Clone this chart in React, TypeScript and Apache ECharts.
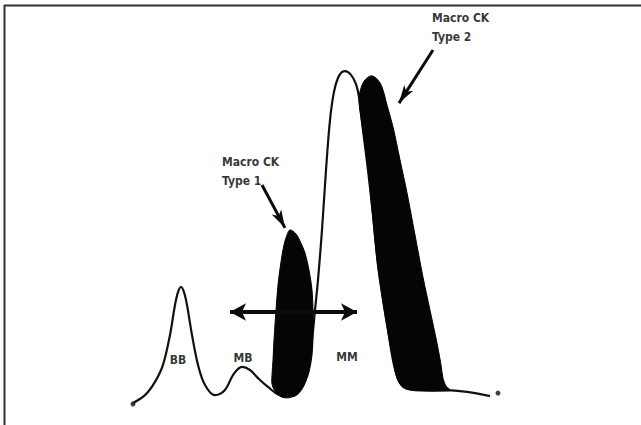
import React, { useEffect, useRef } from "react";
import * as echarts from "echarts";

// Electrophoretic migration (x) vs. relative absorbance (y)
const normalTrace: [number, number][] = [
  [5, 0.6], [8, 2.9], [10.5, 6.8], [12.5, 11.8], [14.25, 20.6], [15.5, 29.4],
  [16.25, 33.2], [17, 34.7], [17.75, 33.2], [18.5, 29.4], [19.75, 20.6],
  [21.25, 11.8], [23, 5.9], [25.5, 2.9], [28, 4.4], [30, 8.8], [32.25, 11.2],
  [34.25, 10.3], [36.25, 7.9], [38.75, 5.3], [41.75, 2.9], [44.75, 2.6],
  [47.25, 5], [48.75, 10.3], [49.75, 19.1], [50.5, 27.9], [51.25, 36.8],
  [52.25, 51.5], [53.25, 69.1], [54.25, 83.8], [55.25, 92.1], [56.5, 96.8],
  [58, 98.2], [59.5, 97.1], [60.75, 94.4], [61.5, 90.6], [62.5, 80.9],
  [63.75, 69.1], [65, 55.9], [66.25, 41.2], [67.5, 30.9], [68.75, 22.1],
  [70.25, 11.8], [71.75, 6.5], [73.75, 4.7], [78, 4.4], [82.5, 4.4],
  [86.75, 4.1], [90.5, 3.5], [94.25, 2.6],
];

const macroType1: [number, number][] = [
  [44.25, 51.5], [45.75, 50.3], [47, 47.6], [48, 44.7], [49, 39.7], [49.75, 33.8],
  [50, 27.9], [50, 20.6], [49.75, 14.7], [49, 9.7], [48, 6.5], [46.5, 3.8],
  [44.75, 2.4], [43.25, 2.1], [41.75, 2.6], [40.5, 4.1], [39.75, 6.2],
  [39.75, 8.8], [40, 13.2], [40.25, 19.1], [40.75, 27.9], [41.25, 35.3],
  [42, 42.1], [42.75, 47.1], [43.5, 50],
];

const macroType2: [number, number][] = [
  [64.5, 96.8], [66, 95.9], [67.25, 93.5], [68.5, 88.2], [70, 81.8], [71.75, 72.1],
  [73.5, 62.4], [75.5, 50], [77.5, 37.6], [79.25, 27.9], [81, 18.2], [82, 11.8],
  [82.5, 7.9], [83.25, 5.6], [84.25, 4.4], [81.75, 4.1], [78, 4.1], [74.25, 4.4],
  [72.25, 5.6], [71, 7.9], [70, 13.2], [68.5, 22.9], [67.25, 32.4], [66, 42.6],
  [64.75, 57.4], [63.5, 72.1], [62.25, 82.4], [61.5, 89.7], [62, 93.2], [63, 95.6],
];

const traceEnds: [number, number][] = [[5, 0.3], [96.25, 3.5]];

const bandLabels: { text: string; at: [number, number] }[] = [
  { text: "BB", at: [16.25, 13.2] },
  { text: "MB", at: [32.5, 13.8] },
  { text: "MM", at: [58.5, 14.1] },
];

const calloutLabels: { text: string; at: [number, number] }[] = [
  { text: "Macro CK\nType 1", at: [27.25, 68.8] },
  { text: "Macro CK\nType 2", at: [79.75, 110.9] },
];

// arrows: [from, to, double-headed]
const arrows: { from: [number, number]; to: [number, number]; both: boolean }[] = [
  { from: [29.25, 27.35], to: [61, 27.35], both: true },
  { from: [37.25, 64.7], to: [43, 52.1], both: false },
  { from: [80, 104.4], to: [71.5, 88.8], both: false },
];

const FONT = "'Liberation Sans Narrow', 'DejaVu Sans Condensed', 'Liberation Sans', Arial, sans-serif";

export default function App() {
  const ref = useRef<HTMLDivElement>(null);
  useEffect(() => {
    if (!ref.current) return;
    const chart = echarts.init(ref.current, undefined, { renderer: "svg" });
    const polygonSeries = (pts: [number, number][]) => ({
      type: "custom",
      coordinateSystem: "cartesian2d",
      silent: true,
      z: 3,
      data: [pts[0]],
      renderItem: (params: any, api: any) => {
        if (params.dataIndex !== 0) return null;
        return {
          type: "polygon",
          shape: { points: pts.map((p) => api.coord(p)), smooth: 0.35 },
          style: { fill: "#050505", stroke: "#050505", lineWidth: 1 },
        };
      },
    });
    chart.setOption({
      animation: false,
      backgroundColor: "#ffffff",
      grid: { left: 113, top: 14, width: 500, height: 391 },
      xAxis: { type: "value", min: 0, max: 125, show: false },
      yAxis: { type: "value", min: 0, max: 115, show: false },
      graphic: [
        { type: "line", shape: { x1: 4, y1: 5.5, x2: 641, y2: 5.5 }, style: { stroke: "#333", lineWidth: 2 } },
        { type: "line", shape: { x1: 4.5, y1: 5, x2: 4.5, y2: 425 }, style: { stroke: "#333", lineWidth: 2 } },
      ],
      series: [
        {
          type: "line",
          data: normalTrace,
          smooth: 0.35,
          showSymbol: false,
          clip: false,
          lineStyle: { color: "#111", width: 2.2 },
          z: 2,
          markLine: {
            silent: true,
            symbol: ["none", "arrow"],
            label: { show: false },
            data: arrows.map((a) => [
              {
                coord: a.from,
                symbol: a.both ? "arrow" : "none",
                symbolSize: a.both ? [13, 16] : [8, 18],
                lineStyle: { color: "#0a0a0a", width: a.both ? 4 : 3, type: "solid" },
              },
              {
                coord: a.to,
                symbol: "arrow",
                symbolSize: a.both ? [13, 16] : [8, 18],
              },
            ]),
          },
        },
        polygonSeries(macroType1),
        polygonSeries(macroType2),
        {
          type: "scatter",
          data: traceEnds,
          symbolSize: 5,
          itemStyle: { color: "#111" },
          silent: true,
          z: 4,
        },
        {
          type: "scatter",
          symbolSize: 0,
          silent: true,
          z: 5,
          data: bandLabels.map((b) => ({
            value: b.at,
            label: {
              show: true,
              formatter: b.text,
              position: "inside",
              align: "center",
              verticalAlign: "middle",
              color: "#000",
              fontSize: 12,
              fontWeight: "bold",
              fontFamily: FONT,
            },
          })),
        },
        {
          type: "scatter",
          symbolSize: 0,
          silent: true,
          z: 5,
          data: calloutLabels.map((b) => ({
            value: b.at,
            label: {
              show: true,
              formatter: b.text,
              position: "inside",
              align: "left",
              verticalAlign: "middle",
              color: "#000",
              fontSize: 12,
              lineHeight: 19,
              fontWeight: "bold",
              fontFamily: FONT,
            },
          })),
        },
      ],
    });
    return () => chart.dispose();
  }, []);
  return (
    <div
      ref={ref}
      style={{ position: "fixed", left: 0, top: 0, width: 641, height: 425, background: "#fff" }}
    />
  );
}
